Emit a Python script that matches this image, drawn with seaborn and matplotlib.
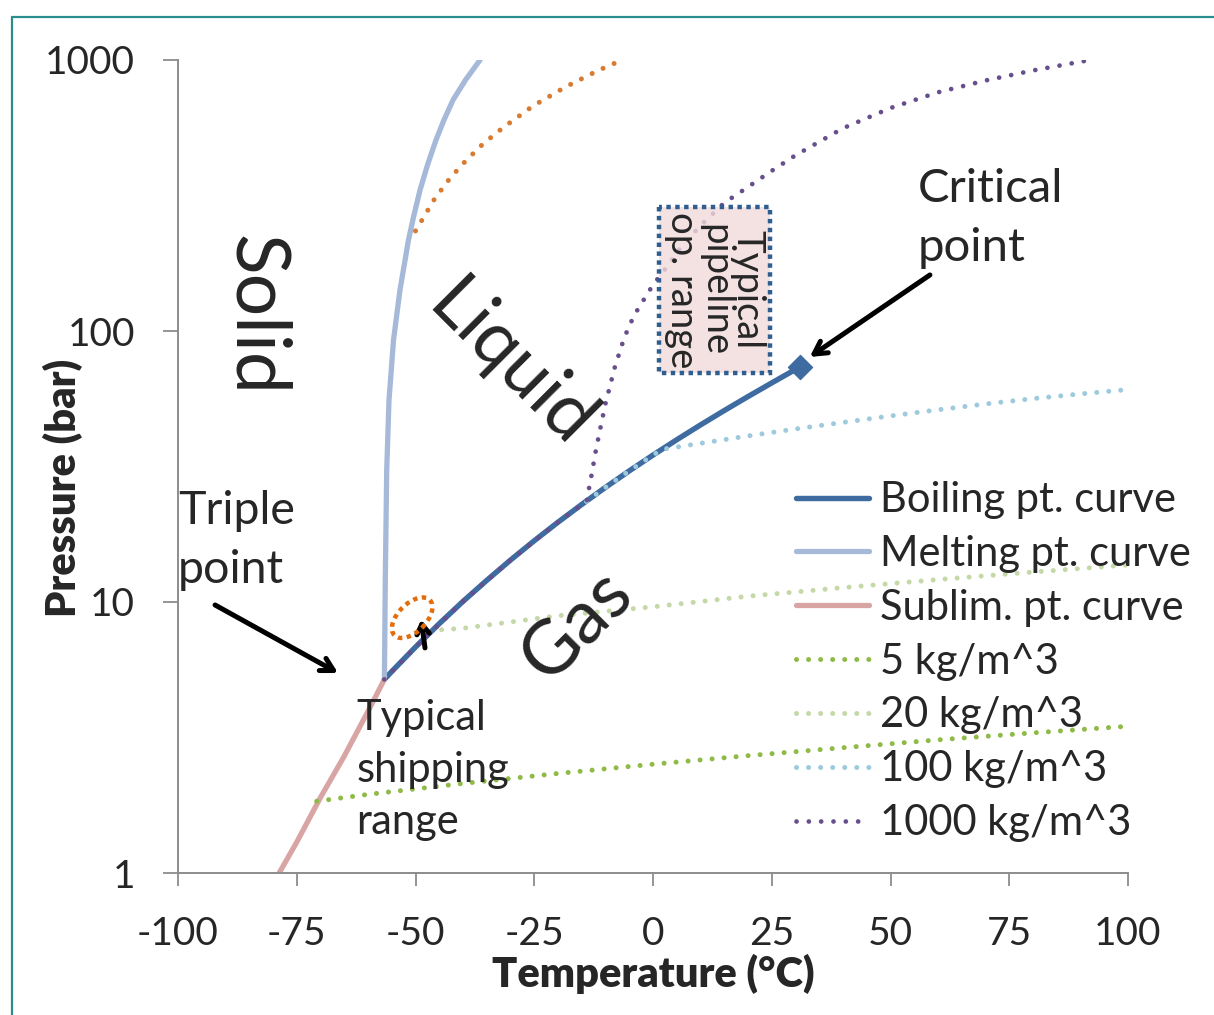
import numpy as np
import pandas as pd
import matplotlib
matplotlib.use("Agg")
import matplotlib.pyplot as plt
import seaborn as sns
from matplotlib.patches import Ellipse
from matplotlib.transforms import ScaledTranslation
from matplotlib.lines import Line2D
from matplotlib.ticker import NullLocator, FixedLocator, FixedFormatter

# ---------------- data ----------------
boil_T = [-56.56, -55, -50, -45, -40, -35, -30, -25, -20, -15, -10, -5, 0, 5, 10, 15, 20, 25, 30, 31.0]
boil_P = [5.18, 5.54, 6.82, 8.32, 10.05, 12.02, 14.28, 16.83, 19.70, 22.91, 26.49, 30.46, 34.85,
          39.69, 45.02, 50.87, 57.29, 64.34, 72.14, 73.77]

melt_T = [-56.56, -56.53, -56.36, -56.06, -55.58, -54.63, -53.26, -51.47, -50.32, -49.05, -47.47,
          -45.68, -44.0, -42.1, -39.47, -36.42]
melt_P = [5.18, 5.47, 12.1, 30.7, 55.6, 92.6, 142, 217, 268, 331, 410, 507, 601, 712, 844, 1000]

subl_T = [-78.7, -75, -70, -65, -60, -56.56]
subl_P = [1.0, 1.3, 1.9, 2.7, 3.95, 5.18]

rho5_T = [-70.8, -60, -40, -20, 0, 20, 40, 60, 80, 100]
rho5_P = [1.84, 1.95, 2.14, 2.33, 2.52, 2.71, 2.90, 3.10, 3.29, 3.48]

rho20_T = [-44.5, -40, -20, 0, 20, 40, 60, 80, 100]
rho20_P = [7.9, 8.0, 8.9, 9.6, 10.5, 11.3, 12.1, 12.9, 13.7]

rho100_T = [-14, -10, -5, 0, 2, 10, 20, 30, 40, 50, 60, 70, 80, 90, 100]
rho100_P = [23.5, 26.49, 30.46, 34.85, 36.6, 38.5, 41.0, 43.5, 46.0, 48.6, 51.2, 53.8, 56.3, 58.6, 60.8]

rho1000_T = [-56.56, -50, -40, -30, -20, -14, -13, -12, -11, -10, -8, -6, -4, -2, 0, 3, 6, 10,
             15, 20, 25, 30, 40, 50, 60, 70, 80, 92]
rho1000_P = [5.18, 6.82, 10.05, 14.28, 19.70, 23.5, 29, 36.5, 44.5, 54, 74, 95, 114, 130, 148, 173,
             205, 245, 297, 340, 390, 445, 560, 665, 760, 840, 915, 1000]

extra_T = [-50, -46, -42.7, -39.4, -35.7, -31.5, -25.3, -18.5, -11.6, -6.5]
extra_P = [234, 307, 367, 425, 492, 564, 676, 794, 914, 1000]

crit_T = [31.0]
crit_P = [73.77]

x_ticks = [-100, -75, -50, -25, 0, 25, 50, 75, 100]
y_ticks = [1, 10, 100, 1000]
y_tick_labels = ["1", "10", "100", "1000"]

series_labels = ["Boiling pt. curve", "Melting pt. curve", "Sublim. pt. curve",
                 "5 kg/m^3", "20 kg/m^3", "100 kg/m^3", "1000 kg/m^3"]

# ---------------- style ----------------
sns.set_style("white")
plt.rcParams['font.family'] = ['Lato', 'DejaVu Sans']

fig = plt.figure(figsize=(12.14, 10.15), dpi=100)
ax = fig.add_axes([178/1214, 1-873/1015, 950/1214, 813/1015])

DOT = (0, (0.01, 2.4))
DOTP = (0, (0.01, 2.6))
dot_kw = dict(dash_capstyle='round', solid_capstyle='round')

sns.lineplot(x=boil_T, y=boil_P, ax=ax, color='#3e6ba0', linewidth=3.9, estimator=None, sort=False,
             label=series_labels[0])
sns.lineplot(x=melt_T, y=melt_P, ax=ax, color='#a6b9d9', linewidth=3.8, estimator=None, sort=False,
             label=series_labels[1])
sns.lineplot(x=subl_T, y=subl_P, ax=ax, color='#d9a5a4', linewidth=3.8, estimator=None, sort=False,
             label=series_labels[2])
sns.lineplot(x=rho5_T, y=rho5_P, ax=ax, color='#8fba48', linewidth=3.6, linestyle=DOT, estimator=None,
             sort=False, label=series_labels[3], **dot_kw)
sns.lineplot(x=rho20_T, y=rho20_P, ax=ax, color='#c5d9a8', linewidth=3.6, linestyle=DOT, estimator=None,
             sort=False, label=series_labels[4], **dot_kw)
sns.lineplot(x=rho100_T, y=rho100_P, ax=ax, color='#9fcadd', linewidth=3.6, linestyle=DOT, estimator=None,
             sort=False, label=series_labels[5], **dot_kw)
sns.lineplot(x=rho1000_T, y=rho1000_P, ax=ax, color='#674e8c', linewidth=3.4, linestyle=DOTP, estimator=None,
             sort=False, label=series_labels[6], **dot_kw)
sns.lineplot(x=extra_T, y=extra_P, ax=ax, color='#d87b30', linewidth=3.6, linestyle=DOT, estimator=None,
             sort=False, label='_nolegend_', **dot_kw)
sns.scatterplot(x=crit_T, y=crit_P, ax=ax, color='#3e6ba0', marker='D', s=150, edgecolor='#3e6ba0',
                zorder=5, legend=False)

ax.set_yscale('log')
ax.set_xlim(-100, 100)
ax.set_ylim(1, 1000)
ax.xaxis.set_major_locator(FixedLocator(x_ticks))
ax.set_xticklabels([str(t) for t in x_ticks])
ax.yaxis.set_major_locator(FixedLocator(y_ticks))
ax.yaxis.set_major_formatter(FixedFormatter(y_tick_labels))
ax.yaxis.set_minor_locator(NullLocator())

for s in ['top', 'right']:
    ax.spines[s].set_visible(False)
for s in ['left', 'bottom']:
    ax.spines[s].set_color('#8c8c8c')
    ax.spines[s].set_linewidth(1.4)
ax.tick_params(axis='y', which='major', direction='out', length=11, width=1.3, color='#8c8c8c',
               labelsize=28, pad=20, left=True)
ax.tick_params(axis='x', which='major', direction='out', length=9, width=1.3, color='#8c8c8c',
               labelsize=28, pad=22, bottom=True)

ax.set_xlabel("Temperature (°C)", fontsize=30, fontweight='heavy')
ax.set_ylabel("Pressure (bar)", fontsize=30, fontweight='heavy')
ax.xaxis.set_label_coords(0.5, -0.1)
ax.yaxis.set_label_coords(-0.10, 0.474)
ax.xaxis.label.set_va('top')

# legend
handles, labels = ax.get_legend_handles_labels()
ax.legend(handles, labels, loc='upper left', bbox_to_anchor=(0.651, 0.482), frameon=False,
          fontsize=30, handlelength=1.75, handletextpad=0.25, labelspacing=0.38,
          borderpad=0, borderaxespad=0)

# region labels
big = 54
ax.text(-83.6, 114, "Solid", rotation=-90, fontsize=big, ha='center', va='center')
ax.text(-30, 75, "Liquid", rotation=-45, fontsize=big, ha='center', va='center', rotation_mode='anchor')
ax.text(-16, 8.2, "Gas", rotation=45, fontsize=big, ha='center', va='center', rotation_mode='anchor')

ax.text(-100, 26, "Triple\npoint", fontsize=33.5, ha='left', va='top', linespacing=1.5)
ax.text(55.8, 400, "Critical\npoint", fontsize=34, ha='left', va='top', linespacing=1.5)
ax.text(-62.5, 4.4, "Typical\nshipping\nrange", fontsize=30, ha='left', va='top', linespacing=1.45)

ax.text(13, 142, "Typical\npipeline\nop. range", rotation=-90, fontsize=27.5, ha='center', va='center',
        multialignment='center', linespacing=0.9, zorder=6,
        bbox=dict(boxstyle='square,pad=0.12', fc=(0.95, 0.86, 0.86, 0.8), ec='#2f5e90', lw=3.2,
                  ls=(0, (1, 1))))

arw = dict(arrowstyle='->,head_length=0.9,head_width=0.5', lw=3.6, color='black', shrinkA=0, shrinkB=0)
ax.annotate("", xy=(-66.3, 5.47), xytext=(-92.2, 9.75), arrowprops=arw)
ax.annotate("", xy=(33.0, 80.2), xytext=(58.3, 161), arrowprops=arw)
ax.annotate("", xy=(-48.8, 8.6), xytext=(-48.0, 6.77),
            arrowprops=dict(arrowstyle='->,head_length=0.7,head_width=0.45', lw=3.6, color='black',
                            shrinkA=0, shrinkB=0))

# dotted orange ellipse (sized in inches, centred at a data point)
ell = Ellipse((0, 0), 0.50, 0.28, angle=45, fill=False, ec='#e46c0a', lw=3.2, ls=(0, (1, 1)),
              transform=fig.dpi_scale_trans + ScaledTranslation(-50.7, 8.75, ax.transData), zorder=6)
ax.add_patch(ell)

# figure border (teal)
fig.add_artist(Line2D([12/1214, 12/1214], [0, 1-17/1015], color='#2a8c8c', lw=1.6, transform=fig.transFigure))
fig.add_artist(Line2D([12/1214, 1], [1-17/1015, 1-17/1015], color='#2a8c8c', lw=1.6, transform=fig.transFigure))

fig.savefig("out.png", dpi=100)
